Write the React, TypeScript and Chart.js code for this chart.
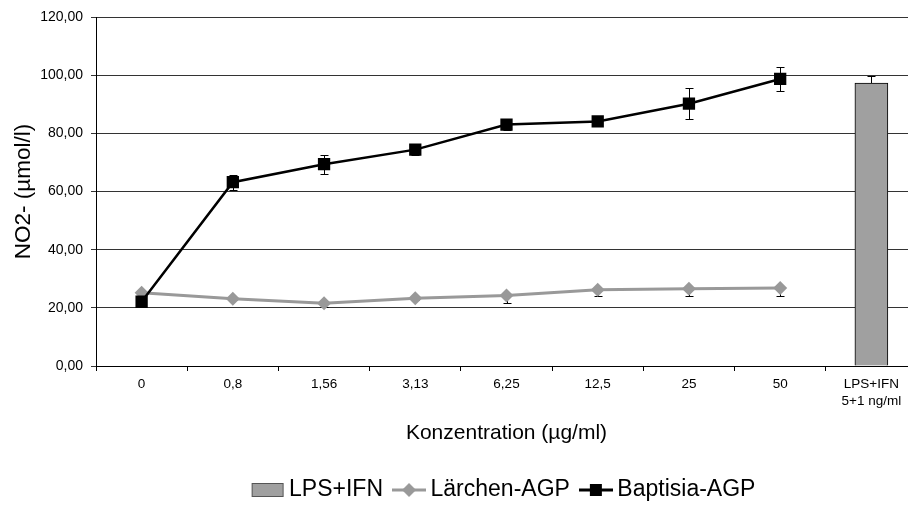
import React, { useEffect, useRef } from 'react';
import { Chart, registerables } from 'chart.js';

Chart.register(...registerables);

const categories: (string | string[])[] = ['0', '0,8', '1,56', '3,13', '6,25', '12,5', '25', '50', ['LPS+IFN', '5+1 ng/ml']];
const lpsIfn = [null, null, null, null, null, null, null, null, 97.3];
const lpsIfnErrPlus = [null, null, null, null, null, null, null, null, 2.4];
const laerchen = [25.2, 23.1, 21.6, 23.3, 24.2, 26.2, 26.6, 26.8, null];
const laerchenErrMinus = [0.5, 0.5, 1.2, 0.5, 2.5, 2.3, 2.6, 2.7, null];
const baptisia = [22.1, 63.2, 69.4, 74.4, 83.0, 84.1, 90.2, 98.7, null];
const baptisiaErr = [1.0, 2.6, 3.3, 2.0, 2.0, 1.5, 5.4, 4.0, null];
const yMin = 0;
const yMax = 120;
const yStep = 20;

const FONT = "'Liberation Sans', Arial, sans-serif";

const errorBarPlugin = {
  id: 'errorBars',
  beforeDatasetsDraw(chart: any) {
    const ctx = chart.ctx;
    const ys = chart.scales.y;
    chart.data.datasets.forEach((ds: any, di: number) => {
      const plus = ds.errPlus as (number | null)[] | undefined;
      const minus = ds.errMinus as (number | null)[] | undefined;
      if (!plus && !minus) return;
      const meta = chart.getDatasetMeta(di);
      meta.data.forEach((el: any, i: number) => {
        const v = ds.data[i];
        if (v == null) return;
        const x = Math.round(el.x) + 0.5;
        const y0 = ys.getPixelForValue(v);
        ctx.save();
        ctx.strokeStyle = '#000';
        ctx.lineWidth = 1;
        const drawTo = (val: number) => {
          const yp = Math.round(ys.getPixelForValue(val)) + 0.5;
          ctx.beginPath();
          ctx.moveTo(x, y0);
          ctx.lineTo(x, yp);
          ctx.moveTo(x - 4, yp);
          ctx.lineTo(x + 4, yp);
          ctx.stroke();
        };
        if (plus && plus[i] != null) drawTo(v + (plus[i] as number));
        if (minus && minus[i] != null) drawTo(v - (minus[i] as number));
        ctx.restore();
      });
    });
  },
};

function makeIcon(kind: 'bar' | 'diamond' | 'square'): HTMLCanvasElement {
  const c = document.createElement('canvas');
  c.width = 34;
  c.height = 16;
  const g = c.getContext('2d') as CanvasRenderingContext2D;
  if (kind === 'bar') {
    g.fillStyle = '#a0a0a0';
    g.fillRect(1, 1, 32, 14);
    g.strokeStyle = '#555';
    g.lineWidth = 1;
    g.strokeRect(1.5, 1.5, 31, 13);
  } else if (kind === 'diamond') {
    g.strokeStyle = '#999999';
    g.lineWidth = 3;
    g.beginPath();
    g.moveTo(0, 8);
    g.lineTo(34, 8);
    g.stroke();
    g.fillStyle = '#999999';
    g.beginPath();
    g.moveTo(17, 1);
    g.lineTo(24, 8);
    g.lineTo(17, 15);
    g.lineTo(10, 8);
    g.closePath();
    g.fill();
  } else {
    g.strokeStyle = '#000';
    g.lineWidth = 3;
    g.beginPath();
    g.moveTo(0, 8);
    g.lineTo(34, 8);
    g.stroke();
    g.fillStyle = '#000';
    g.fillRect(11, 2, 12, 12);
  }
  return c;
}

export default function App() {
  const ref = useRef<HTMLCanvasElement | null>(null);

  useEffect(() => {
    if (!ref.current) return;
    const icons = [makeIcon('bar'), makeIcon('diamond'), makeIcon('square')];
    const chart = new Chart(ref.current, {
      type: 'bar',
      data: {
        labels: categories as any,
        datasets: [
          {
            type: 'bar',
            label: 'LPS+IFN',
            data: lpsIfn as any,
            backgroundColor: '#a0a0a0',
            borderColor: '#000',
            borderWidth: 1,
            barThickness: 33,
            order: 3,
            errPlus: lpsIfnErrPlus,
          } as any,
          {
            type: 'line',
            label: 'Lärchen-AGP',
            data: laerchen as any,
            borderColor: '#999999',
            backgroundColor: '#999999',
            borderWidth: 3,
            pointStyle: 'rectRot',
            pointRadius: 7,
            pointBorderWidth: 0,
            pointBackgroundColor: '#999999',
            tension: 0,
            order: 2,
            errMinus: laerchenErrMinus,
          } as any,
          {
            type: 'line',
            label: 'Baptisia-AGP',
            data: baptisia as any,
            borderColor: '#000',
            backgroundColor: '#000',
            borderWidth: 2.5,
            pointStyle: 'rect',
            pointRadius: 8.7,
            pointBorderWidth: 0,
            pointBackgroundColor: '#000',
            tension: 0,
            order: 1,
            errPlus: baptisiaErr,
            errMinus: baptisiaErr,
          } as any,
        ],
      },
      options: {
        animation: false,
        responsive: false,
        devicePixelRatio: 1,
        layout: { padding: { top: 17, left: 0, right: 13, bottom: 9.5 } },
        plugins: {
          tooltip: { enabled: false },
          legend: {
            position: 'bottom',
            fullSize: false,
            labels: {
              usePointStyle: true,
              pointStyleWidth: 20,
              padding: 16,
              color: '#000',
              font: { family: FONT, size: 23 },
              generateLabels: () =>
                ['LPS+IFN', 'Lärchen-AGP', 'Baptisia-AGP'].map((t, i) => ({
                  text: t,
                  pointStyle: icons[i] as any,
                  fillStyle: 'transparent',
                  strokeStyle: 'transparent',
                  lineWidth: 0,
                  hidden: false,
                  datasetIndex: i,
                  fontColor: '#000',
                })),
            },
          },
        },
        scales: {
          x: {
            type: 'category',
            offset: true,
            grid: {
              display: true,
              drawOnChartArea: false,
              drawTicks: true,
              tickLength: 5,
              offset: true,
              color: '#000',
            },
            border: { display: true, color: '#000', width: 1 },
            ticks: {
              autoSkip: false,
              maxRotation: 0,
              minRotation: 0,
              padding: 5,
              color: '#000',
              font: { family: FONT, size: 13.5, lineHeight: 1.25 },
            },
            title: {
              display: true,
              text: 'Konzentration (µg/ml)',
              color: '#000',
              font: { family: FONT, size: 21 },
              padding: { top: 0, bottom: 17 },
            },
            afterFit: (s: any) => {
              s.height = 96.5;
            },
          } as any,
          y: {
            min: yMin,
            max: yMax,
            grid: {
              color: '#333',
              lineWidth: 1,
              drawTicks: true,
              tickLength: 5,
            },
            border: { display: true, color: '#000', width: 1 },
            ticks: {
              stepSize: yStep,
              padding: 8,
              color: '#000',
              font: { family: FONT, size: 14 },
              callback: (v: any) => Number(v).toFixed(2).replace('.', ','),
            },
            title: {
              display: true,
              text: 'NO2- (µmol/l)',
              color: '#000',
              font: { family: FONT, size: 22.5 },
              padding: { top: 10, bottom: 0 },
            },
            afterFit: (s: any) => {
              s.width = 96;
            },
          } as any,
        },
      },
      plugins: [errorBarPlugin],
    });
    return () => chart.destroy();
  }, []);

  return (
    <div style={{ position: 'absolute', left: 0, top: 0, width: 908, height: 521, overflow: 'hidden', background: '#fff' }}>
      <canvas ref={ref} width={930} height={521} style={{ width: 930, height: 521, display: 'block' }} />
    </div>
  );
}
